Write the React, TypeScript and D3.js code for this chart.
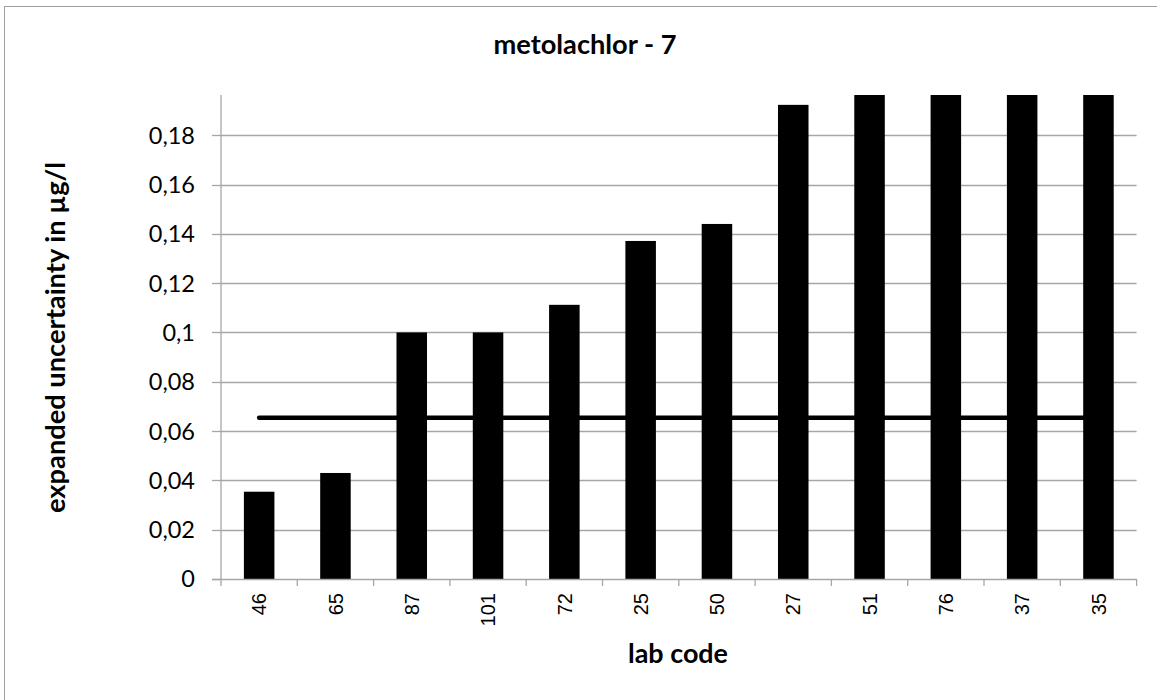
import React from "react";
import * as d3 from "d3";

const labCodes = ["46", "65", "87", "101", "72", "25", "50", "27", "51", "76", "37", "35"];
const uncertainty = [0.0354, 0.043, 0.1, 0.1, 0.1112, 0.1371, 0.144, 0.1923, 0.21, 0.23, 0.25, 0.27];
const referenceValue = 0.0654;
const yTickValues = [0, 0.02, 0.04, 0.06, 0.08, 0.1, 0.12, 0.14, 0.16, 0.18];
const yMax = 0.1963;

const W = 1157;
const H = 700;
const plot = { left: 221, right: 1136.6, top: 95, bottom: 579 };
const GRID = "#a6a6a6";
const LABEL_FONT = "Lato, 'Open Sans', sans-serif";

export default function App() {
  const x = d3
    .scaleBand<string>()
    .domain(labCodes)
    .range([plot.left, plot.right])
    .paddingInner(0.6)
    .paddingOuter(0.3);
  const y = d3.scaleLinear().domain([0, yMax]).range([plot.bottom, plot.top]);
  const step = x.step();
  const fmt = (v: number) => String(+v.toFixed(2)).replace(".", ",");

  const lineGen = d3
    .line<string>()
    .x((d) => (x(d) as number) + x.bandwidth() / 2)
    .y(() => y(referenceValue));

  const boundaries = d3.range(labCodes.length + 1).map((i) => plot.left + i * step);

  return (
    <div style={{ position: "absolute", left: 0, top: 0 }}>
      <svg width={W} height={H} style={{ display: "block", background: "#fff" }}>
        <rect x={4.5} y={6.5} width={1161} height={730} fill="#fff" stroke="#a0a0a0" strokeWidth={1} />
        <defs>
          <clipPath id="plotClip">
            <rect x={plot.left} y={plot.top} width={plot.right - plot.left + 2} height={plot.bottom - plot.top} />
          </clipPath>
        </defs>
        {/* gridlines */}
        {yTickValues.filter((v) => v > 0).map((v) => (
          <line key={v} x1={plot.left} x2={plot.right} y1={Math.round(y(v)) + 0.5} y2={Math.round(y(v)) + 0.5} stroke={GRID} strokeWidth={1.3} />
        ))}
        {/* bars */}
        <g clipPath="url(#plotClip)">
          {labCodes.map((c, i) => (
            <rect
              key={c}
              x={x(c) as number}
              width={x.bandwidth()}
              y={y(Math.min(uncertainty[i], yMax))}
              height={plot.bottom - y(Math.min(uncertainty[i], yMax))}
              fill="#000"
            />
          ))}
        </g>
        {/* reference line */}
        <path d={lineGen(labCodes) || ""} stroke="#000" strokeWidth={4.5} strokeLinecap="round" fill="none" />
        {/* axes */}
        <line x1={plot.left} x2={plot.left} y1={plot.top} y2={plot.bottom} stroke={GRID} strokeWidth={1.3} />
        <line x1={plot.left - 9} x2={plot.right} y1={plot.bottom + 0.5} y2={plot.bottom + 0.5} stroke={GRID} strokeWidth={1.3} />
        {yTickValues.map((v) => (
          <g key={"yt" + v}>
            <line x1={plot.left - 9} x2={plot.left} y1={Math.round(y(v)) + 0.5} y2={Math.round(y(v)) + 0.5} stroke={GRID} strokeWidth={1.3} />
            <text x={195} y={y(v)} dy="0.36em" textAnchor="end" fontFamily={LABEL_FONT} fontSize={23.5} fill="#000">
              {fmt(v)}
            </text>
          </g>
        ))}
        {boundaries.map((bx, i) => (
          <line key={"xt" + i} x1={bx} x2={bx} y1={plot.bottom} y2={plot.bottom + 7} stroke={GRID} strokeWidth={1.3} />
        ))}
        {labCodes.map((c) => {
          const cx = (x(c) as number) + x.bandwidth() / 2;
          return (
            <text
              key={"xl" + c}
              transform={`translate(${cx},593) rotate(-90)`}
              textAnchor="end"
              dy="0.36em"
              fontFamily="'Liberation Sans', Arial, sans-serif"
              fontSize={20}
              fill="#000"
            >
              {c}
            </text>
          );
        })}
        {/* title */}
        <text x={585} y={54} textAnchor="middle" fontFamily={LABEL_FONT} fontWeight="bold" fontSize={26} textLength={183} lengthAdjust="spacingAndGlyphs" fill="#000">
          metolachlor - 7
        </text>
        {/* axis titles */}
        <text
          transform={`translate(65,337.5) rotate(-90)`}
          textAnchor="middle"
          fontFamily={LABEL_FONT}
          fontWeight="bold"
          fontSize={26}
          textLength={351}
          lengthAdjust="spacingAndGlyphs"
          fill="#000"
        >
          expanded uncertainty in µg/l
        </text>
        <text x={678} y={663} textAnchor="middle" fontFamily={LABEL_FONT} fontWeight="bold" fontSize={26} textLength={100} lengthAdjust="spacingAndGlyphs" fill="#000">
          lab code
        </text>
      </svg>
    </div>
  );
}
